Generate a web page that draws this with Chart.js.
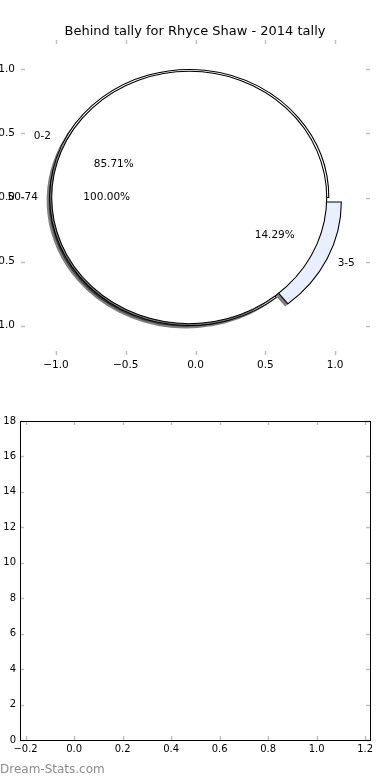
<!DOCTYPE html>
<html>
<head>
<meta charset="utf-8">
<script src="https://cdn.jsdelivr.net/npm/chart.js@4.4.1/dist/chart.umd.min.js"></script>
<style>
  body { margin: 0; background: #fff; width: 390px; height: 780px; overflow: hidden; position: relative; font-family: "DejaVu Sans", sans-serif; }
  .layer { position: absolute; left: 0; top: 0; width: 390px; height: 390px; }
  #bottom { position: absolute; left: 0; top: 390px; width: 390px; height: 390px; }
  #credit { position: absolute; left: 0; top: 762px; font-size: 12px; color: #8c8c8c; }
</style>
</head>
<body>
<div class="layer"><canvas id="pieAxes"></canvas></div>
<div class="layer"><canvas id="outerPie"></canvas></div>
<div class="layer"><canvas id="innerPie"></canvas></div>
<div id="bottom"><canvas id="tallyChart"></canvas></div>
<div id="credit">Dream-Stats.com</div>

<script>
// data
const pieCategories = ["0-2", "3-5"];
const pieCounts = [6, 1];
const innerCategories = ["50-74"];
const innerCounts = [1];
const pieTicks = [-1.0, -0.5, 0.0, 0.5, 1.0];
const tallyXTicks = [-0.2, 0.0, 0.2, 0.4, 0.6, 0.8, 1.0, 1.2];
const tallyYTicks = [0, 2, 4, 6, 8, 10, 12, 14, 16, 18];

// layout bits
const pieCenter = [-0.045, 0];
const fontFamily = '"DejaVu Sans", sans-serif';

Chart.defaults.font.family = fontFamily;
Chart.defaults.color = "#000";

function numLabel(v, digits) {
  const s = Math.abs(v).toFixed(digits);
  return v < -1e-9 ? "\u2212" + s : s;
}

// matplotlib style ticks pointing inwards, optional black frame
const mplTicks = {
  id: "mplTicks",
  afterDraw(chart, args, opts) {
    const { ctx, chartArea: a, scales } = chart;
    const len = 4;
    ctx.save();
    ctx.strokeStyle = "#c0c0c0";
    ctx.lineWidth = 1.5;
    ctx.beginPath();
    scales.x.ticks.forEach((t) => {
      const px = Math.round(scales.x.getPixelForValue(t.value)) + 0.5;
      ctx.moveTo(px, a.top);
      ctx.lineTo(px, a.top + len);
      ctx.moveTo(px, a.bottom);
      ctx.lineTo(px, a.bottom - len);
    });
    scales.y.ticks.forEach((t) => {
      const py = Math.round(scales.y.getPixelForValue(t.value)) + 0.5;
      ctx.moveTo(a.left, py);
      ctx.lineTo(a.left + len, py);
      ctx.moveTo(a.right, py);
      ctx.lineTo(a.right - len, py);
    });
    ctx.stroke();
    if (opts.frame) {
      ctx.strokeStyle = "#000";
      ctx.lineWidth = 1;
      ctx.strokeRect(Math.round(a.left) + 0.5, Math.round(a.top) + 0.5,
        Math.round(a.right - a.left), Math.round(a.bottom - a.top));
    }
    ctx.restore();
  },
};

function axisOpts(min, max, ticks, digits, size, pad, fit) {
  return {
    type: "linear",
    min: min,
    max: max,
    afterBuildTicks: (s) => { s.ticks = ticks.map((v) => ({ value: v })); },
    afterFit: fit,
    grid: { display: false, drawTicks: false },
    border: { display: false },
    ticks: {
      font: { size: size },
      color: "#000",
      padding: pad,
      callback: (v) => numLabel(v, digits),
    },
  };
}

// spacer on the right so the title stays centred on the whole figure
const rightSpacer = axisOpts(-1.23, 1.23, pieTicks, 1, 10.5, 0, (s) => { s.width = 20; });
rightSpacer.position = "right";
rightSpacer.ticks.display = false;

// pie axes (ticks only, no spines)
const axes = new Chart(document.getElementById("pieAxes"), {
  type: "scatter",
  data: { datasets: [{ data: [] }] },
  plugins: [mplTicks],
  options: {
    responsive: true,
    maintainAspectRatio: false,
    animation: false,
    events: [],
    layout: { padding: { left: 0, right: 0, top: 0, bottom: 10 } },
    scales: {
      x: axisOpts(-1.25, 1.25, pieTicks, 1, 10.5, 4, (s) => { s.height = 25; }),
      y: axisOpts(-1.23, 1.23, pieTicks, 1, 10.5, 6, (s) => { s.width = 21; }),
      y2: rightSpacer,
    },
    plugins: {
      legend: { display: false },
      tooltip: { enabled: false },
      title: {
        display: true,
        text: "Behind tally for Rhyce Shaw - 2014 tally",
        font: { size: 13, weight: "normal" },
        color: "#000",
        padding: { top: 24, bottom: 0.4 },
      },
      mplTicks: { frame: false },
    },
  },
});

const cx = axes.scales.x.getPixelForValue(pieCenter[0]);
const cy = axes.scales.y.getPixelForValue(pieCenter[1]);
const rx = axes.scales.x.getPixelForValue(1) - axes.scales.x.getPixelForValue(0);
const ry = axes.scales.y.getPixelForValue(0) - axes.scales.y.getPixelForValue(1);
const sx = rx / ry;

const half = Math.floor(Math.min(cx, cy, 390 - cx, 390 - cy)) - 1;
const piePadding = { left: cx - half, right: 390 - cx - half, top: cy - half, bottom: 390 - cy - half };

// stretch the round pie into the axes' unequal aspect, shadow under the fills,
// then outline each wedge the way matplotlib does (no seam on a full circle)
const ellipse = {
  id: "ellipse",
  beforeDatasetsDraw(chart) {
    const ctx = chart.ctx;
    ctx.save();
    ctx.translate(cx, 0);
    ctx.scale(sx, 1);
    ctx.translate(-cx, 0);
    ctx.shadowColor = "rgba(0, 0, 0, 0.5)";
    ctx.shadowOffsetX = -3;
    ctx.shadowOffsetY = 3;
  },
  afterDatasetsDraw(chart) {
    const ctx = chart.ctx;
    ctx.shadowColor = "rgba(0, 0, 0, 0)";
    ctx.strokeStyle = "#000";
    ctx.lineWidth = 1;
    chart.getDatasetMeta(0).data.forEach((arc) => {
      const circ = arc.endAngle - arc.startAngle;
      const shift = (arc.options.offset || 0) / 4;
      const mid = (arc.startAngle + arc.endAngle) / 2;
      const ox = arc.x + Math.cos(mid) * shift;
      const oy = arc.y + Math.sin(mid) * shift;
      const r = arc.outerRadius + shift * (1 - Math.sin(Math.min(Math.PI, circ)));
      ctx.beginPath();
      if (circ >= 2 * Math.PI - 1e-6) {
        ctx.arc(ox, oy, r, 0, 2 * Math.PI);
      } else {
        ctx.moveTo(ox, oy);
        ctx.arc(ox, oy, r, arc.startAngle, arc.endAngle);
        ctx.closePath();
      }
      ctx.stroke();
    });
    ctx.restore();
  },
};

function pieOptions(radius, rotation) {
  return {
    responsive: true,
    maintainAspectRatio: false,
    animation: false,
    events: [],
    radius: radius,
    rotation: rotation,
    layout: { padding: piePadding },
    plugins: { legend: { display: false }, tooltip: { enabled: false } },
  };
}

const total = pieCounts.reduce((a, b) => a + b, 0);
const outerPie = new Chart(document.getElementById("outerPie"), {
  type: "pie",
  data: {
    labels: pieCategories,
    datasets: [{
      data: pieCounts,
      backgroundColor: ["#ffffff", "#e9effc"],
      borderWidth: 0,
      offset: [0, 41],
    }],
  },
  plugins: [ellipse],
  options: pieOptions(ry, 90 + 360 * pieCounts[1] / total),
});

function drawPieLabels(ctx, pc) {
  const meta = pc.getDatasetMeta(0);
  const labels = pc.data.labels;
  const values = pc.data.datasets[0].data;
  const sum = values.reduce((a, b) => a + b, 0);
  meta.data.forEach((arc, i) => {
    const mid = (arc.startAngle + arc.endAngle) / 2;
    const shift = (arc.options.offset || 0) / 4;
    const at = (f) => {
      const d = shift + f * arc.outerRadius;
      return [arc.x + d * Math.cos(mid) * sx, arc.y + d * Math.sin(mid)];
    };
    const p = at(1.1);
    ctx.textAlign = Math.cos(mid) > 0 ? "left" : "right";
    ctx.fillText(labels[i], p[0], p[1]);
    const q = at(0.6);
    ctx.textAlign = "center";
    ctx.fillText((values[i] / sum * 100).toFixed(2) + "%", q[0], q[1]);
  });
}

const innerPie = new Chart(document.getElementById("innerPie"), {
  type: "pie",
  data: {
    labels: innerCategories,
    datasets: [{
      data: innerCounts,
      backgroundColor: ["#ffffff"],
      borderWidth: 0,
    }],
  },
  plugins: [ellipse, {
    id: "pieLabels",
    afterDraw(chart) {
      const ctx = chart.ctx;
      ctx.save();
      ctx.fillStyle = "#000";
      ctx.font = "10.5px " + fontFamily;
      ctx.textBaseline = "middle";
      drawPieLabels(ctx, outerPie);
      drawPieLabels(ctx, chart);
      ctx.restore();
    },
  }],
  options: pieOptions(ry * 0.985, 90),
});

// empty tally axes below
new Chart(document.getElementById("tallyChart"), {
  type: "scatter",
  data: { datasets: [{ data: [] }] },
  plugins: [mplTicks],
  options: {
    responsive: true,
    maintainAspectRatio: false,
    animation: false,
    events: [],
    layout: { padding: { left: 0, right: 20, top: 31, bottom: 20 } },
    scales: {
      x: axisOpts(-0.223, 1.22, tallyXTicks, 1, 10, 3, (s) => { s.height = 20; }),
      y: axisOpts(0, 18, tallyYTicks, 0, 10, 4, (s) => { s.width = 20; }),
    },
    plugins: {
      legend: { display: false },
      tooltip: { enabled: false },
      mplTicks: { frame: true },
    },
  },
});
</script>
</body>
</html>
